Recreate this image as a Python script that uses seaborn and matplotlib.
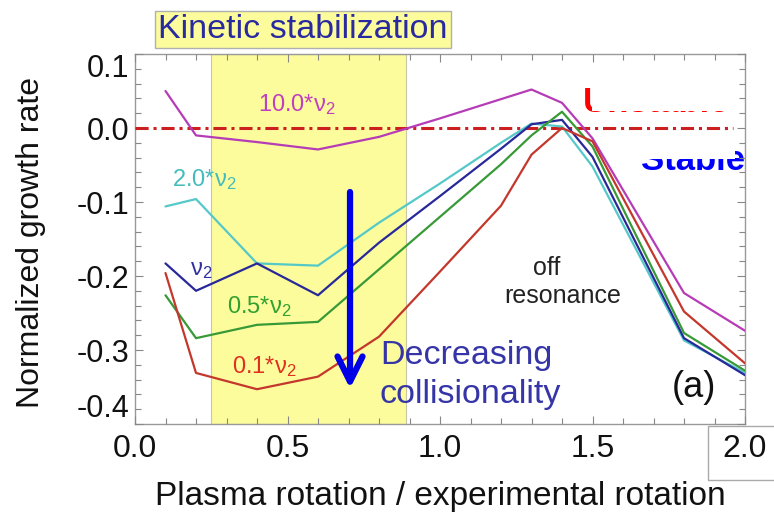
import matplotlib
matplotlib.use("Agg")
import matplotlib.pyplot as plt
from matplotlib.patches import Rectangle
import numpy as np
import pandas as pd
import seaborn as sns

# Plasma rotation normalised to the experimental value
rotation = [0.1, 0.2, 0.4, 0.6, 0.8, 1.0, 1.2, 1.3, 1.4, 1.5, 1.8, 2.0]

# Normalized growth rate for each collisionality scan
rate_nu10 = [0.050, -0.010, -0.019, -0.029, -0.012, 0.013, 0.039, 0.052, 0.034, -0.014, -0.223, -0.274]
rate_nu2 = [-0.106, -0.096, -0.183, -0.186, -0.128, -0.075, -0.020, 0.006, 0.002, -0.052, -0.287, -0.331]
rate_nu1 = [-0.183, -0.220, -0.183, -0.226, -0.155, -0.092, -0.028, 0.005, 0.011, -0.039, -0.284, -0.334]
rate_nu05 = [-0.226, -0.284, -0.266, -0.262, -0.191, -0.120, -0.049, -0.010, 0.022, -0.025, -0.277, -0.328]
rate_nu01 = [-0.196, -0.331, -0.353, -0.336, -0.282, -0.194, -0.105, -0.036, 0.000, -0.018, -0.248, -0.318]

cases = ["10.0", "2.0", "1.0", "0.5", "0.1"]
line_colors = ["#b63cb6", "#55c8c8", "#28289a", "#379a37", "#c4372c"]
x_tick_values = [0.0, 0.5, 1.0, 1.5, 2.0]
x_tick_labels = ["0.0", "0.5", "1.0", "1.5", "2.0"]
y_tick_values = [0.1, 0.0, -0.1, -0.2, -0.3, -0.4]
y_tick_labels = ["0.1", "0.0", "-0.1", "-0.2", "-0.3", "-0.4"]

frames = []
for case, rates in zip(cases, [rate_nu10, rate_nu2, rate_nu1, rate_nu05, rate_nu01]):
    frames.append(pd.DataFrame({"rotation": rotation, "rate": rates, "case": case}))
df = pd.concat(frames, ignore_index=True)

sns.set_style("ticks")
plt.rcParams["font.family"] = ["Liberation Sans", "DejaVu Sans"]
plt.rcParams["mathtext.fontset"] = "custom"
plt.rcParams["mathtext.rm"] = "Liberation Sans"
plt.rcParams["mathtext.it"] = "Liberation Sans:italic"
plt.rcParams["axes.unicode_minus"] = False

W, H = 774, 517
fig = plt.figure(figsize=(W / 100, H / 100), dpi=100)
ax = fig.add_axes([135 / W, 1 - 424 / H, 610 / W, 370 / H])
ax.set_axisbelow(False)

yellow = "#fcfc9c"
ax.axvspan(0.25, 0.89, facecolor=yellow, edgecolor="#c8c8a8", lw=0.8, zorder=0.5)

# partially hidden stability labels
ax.text(1.469, 0.0216, "Unstable", color="#ff0000", fontsize=25, fontweight="bold",
        ha="left", va="baseline", zorder=1)
ax.add_patch(Rectangle((1.498, 0.0236), 0.6, 0.1, facecolor="white", edgecolor="none", zorder=1.2))
ax.text(2.0, -0.057, "Stable", color="#0000ff", fontsize=25, fontweight="bold",
        ha="right", va="baseline", zorder=1, clip_on=True)
ax.add_patch(Rectangle((1.607, -0.0425), 0.36, 0.0395, facecolor="white", edgecolor="none", zorder=1.2))

sns.lineplot(data=df, x="rotation", y="rate", hue="case", hue_order=cases,
             palette=line_colors, estimator=None, legend=False, lw=1.6, ax=ax, zorder=3)

ax.plot([0.0, 1.96], [0.0, 0.0], color="#cc1f1f", lw=2.2,
        ls=(0, (4.3, 1.6, 1.0, 1.6)), zorder=2.8)

ax.set_xlim(0, 2.0)
ax.set_ylim(-0.4, 0.1)
ax.set_xticks(x_tick_values)
ax.set_xticklabels(x_tick_labels)
ax.set_yticks(y_tick_values)
ax.set_yticklabels(y_tick_labels)
ax.set_xticks(np.arange(0, 2.001, 0.1), minor=True)
ax.set_yticks(np.arange(-0.4, 0.1001, 0.02), minor=True)
ax.tick_params(which="both", direction="in", top=True, right=True, color="#888888", width=0.8)
ax.tick_params(which="major", length=6)
ax.tick_params(which="minor", length=4)
ax.tick_params(axis="x", labelsize=23, pad=7, labelcolor="#111111")
ax.tick_params(axis="y", labelsize=22, pad=4, labelcolor="#111111")
ylabels = ax.get_yticklabels()
ylabels[0].set_va("top")
ylabels[-1].set_va("bottom")
for s in ax.spines.values():
    s.set_color("#999999")
    s.set_linewidth(1.0)

ax.set_xlabel("Plasma rotation / experimental rotation", fontsize=24, color="#111111")
ax.set_ylabel("Normalized growth rate", fontsize=23, color="#111111")
ax.xaxis.set_label_coords(0.5, -0.155)
ax.yaxis.set_label_coords(-0.146, 0.49)

# curve labels
lab_kw = dict(fontsize=17, ha="left", va="center", zorder=4)
ax.text(0.403, 0.032, r"10.0*$\mathrm{\nu}_2$", color="#c040c0", **lab_kw)
ax.text(0.121, -0.070, r"2.0*$\mathrm{\nu}_2$", color="#44bcbc", **lab_kw)
ax.text(0.180, -0.192, r"$\mathrm{\nu}_2$", color="#30309e", **lab_kw)
ax.text(0.302, -0.241, r"0.5*$\mathrm{\nu}_2$", color="#30a030", **lab_kw)
ax.text(0.318, -0.322, r"0.1*$\mathrm{\nu}_2$", color="#e03020", **lab_kw)

# collisionality arrow
ax.annotate("", xy=(0.705, -0.352), xytext=(0.705, -0.0865),
            arrowprops=dict(arrowstyle="->,head_length=0.9,head_width=0.45",
                            lw=4.5, color="#0000e6", mutation_scale=20,
                            shrinkA=0, shrinkB=0), zorder=5)
ax.text(0.803, -0.319, "Decreasing", color="#3535a8", fontsize=24.5, ha="left", va="baseline", zorder=4)
ax.text(0.803, -0.372, "collisionality", color="#3535a8", fontsize=24.5, ha="left", va="baseline", zorder=4)

ax.text(1.351, -0.198, "off", color="#222222", fontsize=18, ha="center", va="baseline", zorder=4)
ax.text(1.403, -0.236, "resonance", color="#222222", fontsize=18, ha="center", va="baseline", zorder=4)
ax.text(1.761, -0.351, "(a)", color="#111111", fontsize=26, ha="left", va="center", zorder=4)

fig.text(303 / W, 1 - 29.5 / H, "Kinetic stabilization", fontsize=24.5, color="#2a2aa0",
         ha="center", va="center",
         bbox=dict(boxstyle="square,pad=0.1", fc=yellow, ec="#b0b0b0", lw=1))

fig.patches.append(Rectangle((708 / W, 1 - 480 / H), 0.2, 54 / H, transform=fig.transFigure,
                             fill=False, edgecolor="#aaaaaa", lw=1))

fig.savefig("out.png", dpi=100, facecolor="white")
